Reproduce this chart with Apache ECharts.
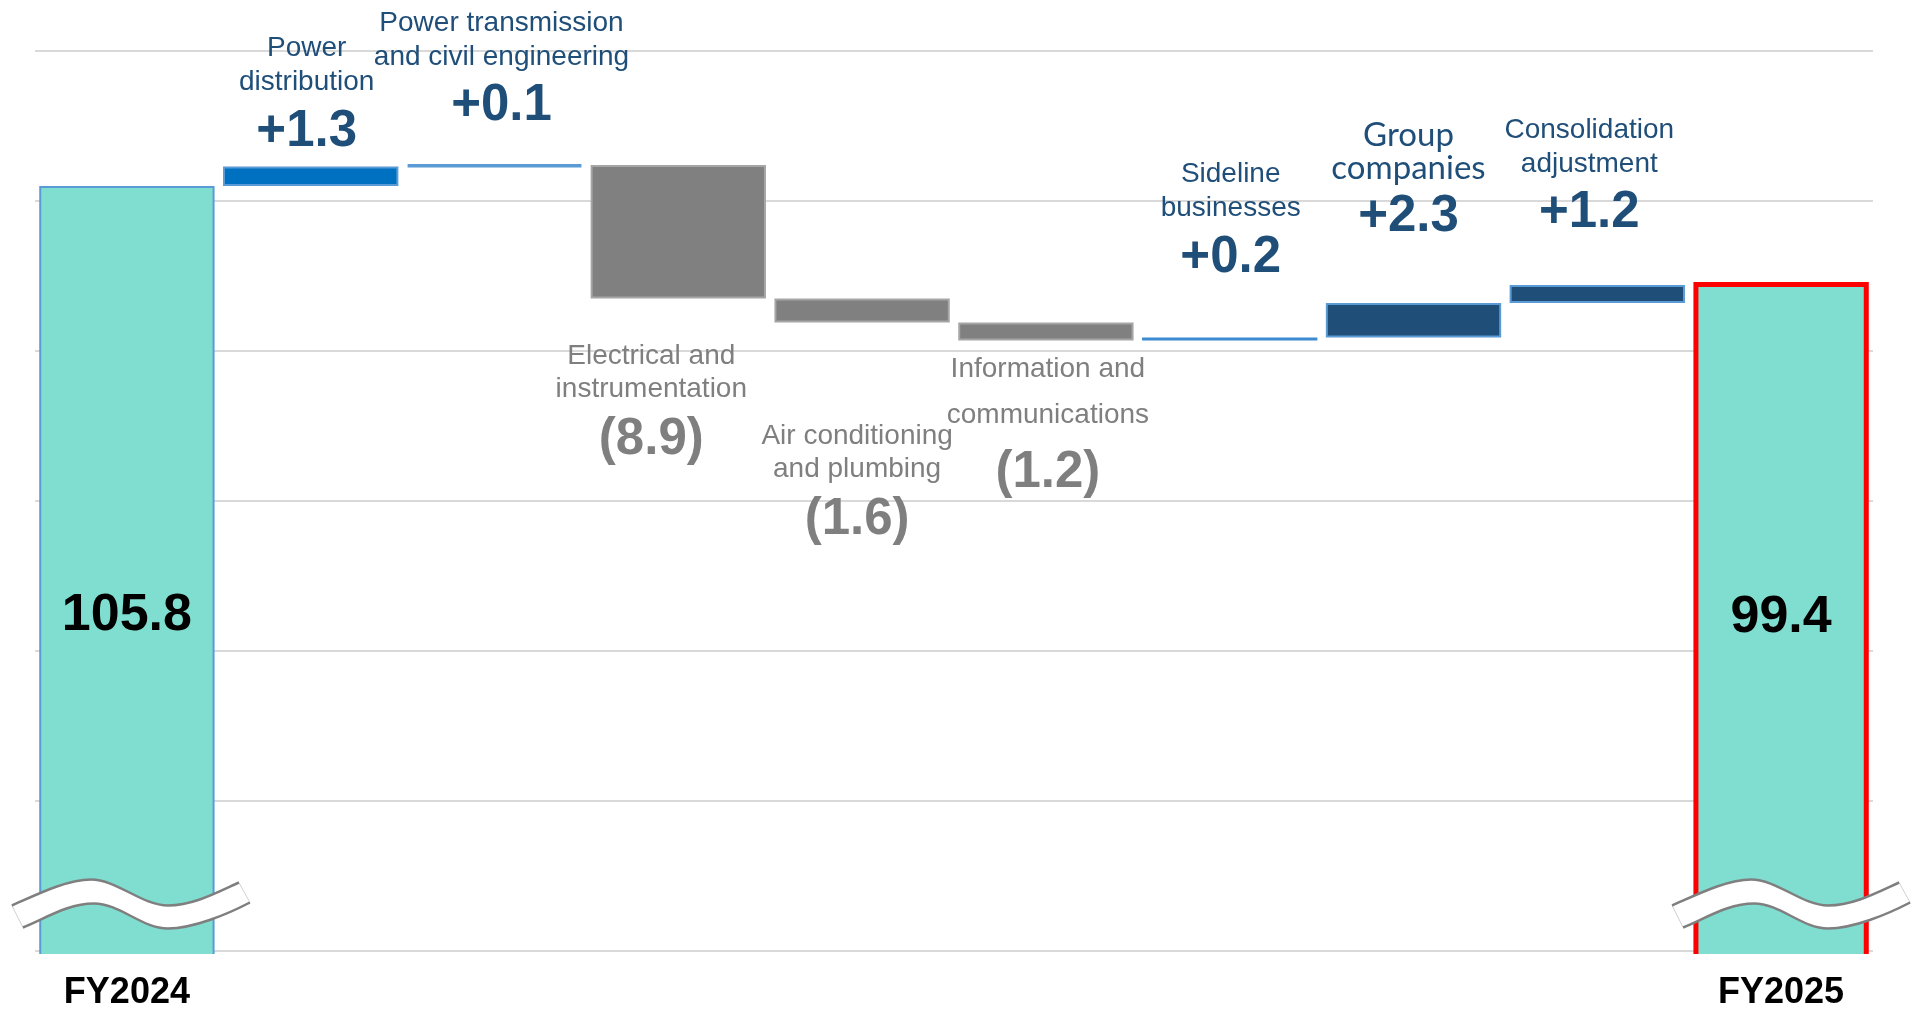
<!DOCTYPE html>
<html>
<head>
<meta charset="utf-8">
<script src="https://cdn.jsdelivr.net/npm/echarts@6/dist/echarts.min.js"></script>
<style>
  html, body { margin: 0; padding: 0; background: #fff; }
  #chart { width: 1919px; height: 1010px; }
</style>
</head>
<body>
<div id="chart"></div>
<script>
// values (waterfall, FY2024 -> FY2025)
const categories = ['FY2024', 'Power distribution', 'Power transmission and civil engineering',
  'Electrical and instrumentation', 'Air conditioning and plumbing', 'Information and communications',
  'Sideline businesses', 'Group companies', 'Consolidation adjustment', 'FY2025'];
const nameLines = [[], ['Power', 'distribution'], ['Power transmission', 'and civil engineering'],
  ['Electrical and', 'instrumentation'], ['Air conditioning', 'and plumbing'], ['Information and', 'communications'],
  ['Sideline', 'businesses'], ['Group', 'companies'], ['Consolidation', 'adjustment'], []];
const startValue = 105.8;
const endValue = 99.4;
const changes = [1.3, 0.1, -8.9, -1.6, -1.2, 0.2, 2.3, 1.2];
const gridValues = [54.8, 64.8, 74.8, 84.8, 94.8, 104.8, 114.8];
const breakMarks = [[0, 57.9], [9, 57.9]];

// styles per bar
const barFill = ['#7fded0', '#0070c0', '#5b9bd5', '#808080', '#808080', '#808080', '#0070c0', '#1f4e79', '#1f4e79', '#7fded0'];
const barBorder = ['#5b9bd5', '#5b9bd5', '#5b9bd5', '#a6a6a6', '#a6a6a6', '#a6a6a6', '#3c8ad0', '#5b9bd5', '#5b9bd5', '#ff0000'];
const barBorderWidth = [2, 2, 3.5, 2, 2, 2, 2.5, 2, 2, 5];
const labelGap = [312, 3, 26, 41, 97, 6, 48, 54, 40, 312];
const labelShiftX = [0, -4, 7, -27, -5, 2, 1, -5, -8, 0];
const nameStyle = ['', 'n', 'n', 'gn', 'gn', 'gw', 'n', 'g', 'n', ''];

function fmt(c) {
  return c >= 0 ? '+' + c.toFixed(1) : '(' + Math.abs(c).toFixed(1) + ')';
}

function makeItem(i, v, c) {
  const item = {
    value: v,
    itemStyle: { color: barFill[i], borderColor: barBorder[i], borderWidth: barBorderWidth[i] }
  };
  if (c === undefined) {
    item.label = { show: true, position: 'insideBottom', distance: labelGap[i], formatter: '{t|' + v.toFixed(1) + '}' };
  } else {
    const up = c >= 0;
    const lines = nameLines[i].map(s => '{' + nameStyle[i] + '|' + s + '}');
    lines.push('{' + (up ? 'v' : 'gv') + '|' + fmt(c) + '}');
    item.label = {
      show: true,
      position: up ? 'top' : 'bottom',
      distance: labelGap[i],
      offset: [labelShiftX[i], 0],
      formatter: lines.join('\n')
    };
  }
  return item;
}

const baseData = [0];
const deltaData = [makeItem(0, startValue)];
let run = startValue;
changes.forEach((c, k) => {
  const next = +(run + c).toFixed(1);
  baseData.push(Math.min(run, next));
  deltaData.push(makeItem(k + 1, Math.abs(c), c));
  run = next;
});
baseData.push(0);
deltaData.push(makeItem(9, endValue));

// wavy "axis break" band, local pixels around its anchor point
const waveTop = 'M-115 1 C-90 -10 -60 -25 -36 -25 C-10 -25 15 1 41 1 C66 1 90 -12 112 -22';
const waveBottom = 'M-104 23 C-80 13 -58 -1 -33 -1 C-7 -1 15 24 41 24 C66 24 100 10 123 -2';
const waveFill = waveTop + ' L123 -2 C100 10 66 24 41 24 C15 24 -7 -1 -33 -1 C-58 -1 -80 13 -104 23 Z';

function renderBreak(params, api) {
  const p = api.coord([api.value(0), api.value(1)]);
  const dx = params.dataIndex === 1 ? 6 : 0;
  return {
    type: 'group',
    x: p[0] + dx,
    y: p[1],
    children: [
      { type: 'path', shape: { pathData: waveFill }, style: { fill: '#ffffff', stroke: '#d0d0d0', lineWidth: 1 } },
      { type: 'path', shape: { pathData: waveTop }, style: { fill: 'none', stroke: '#7f7f7f', lineWidth: 2.5 } },
      { type: 'path', shape: { pathData: waveBottom }, style: { fill: 'none', stroke: '#7f7f7f', lineWidth: 2.5 } }
    ]
  };
}

const font = 'Liberation Sans, Arial, sans-serif';
const myChart = echarts.init(document.getElementById('chart'));
myChart.setOption({
  animation: false,
  grid: { left: 35, right: 46, top: 51, bottom: 53, outerBoundsMode: 'none' },
  xAxis: {
    type: 'category',
    data: categories,
    z: 10,
    // white line hides the clipped bottom edge of the end bars
    axisLine: { show: true, onZero: false, lineStyle: { color: '#ffffff', width: 6 } },
    axisTick: { show: false },
    axisLabel: {
      interval: 0,
      margin: 18,
      fontFamily: font,
      fontSize: 36,
      fontWeight: 'bold',
      color: '#000',
      formatter: (v, i) => (i === 0 || i === categories.length - 1 ? v : '')
    }
  },
  yAxis: {
    type: 'value',
    min: 54.4,
    max: 114.8,
    axisLine: { show: false },
    axisTick: { show: false },
    axisLabel: { show: false },
    splitLine: { show: false }
  },
  series: [
    {
      type: 'bar',
      stack: 'w',
      silent: true,
      barCategoryGap: '4.6%',
      itemStyle: { color: 'transparent' },
      data: baseData,
      markLine: {
        silent: true,
        z: 1,
        symbol: ['none', 'none'],
        label: { show: false },
        lineStyle: { color: '#d9d9d9', width: 2, type: 'solid' },
        data: gridValues.map(v => ({ yAxis: v }))
      }
    },
    {
      type: 'bar',
      stack: 'w',
      z: 3,
      data: deltaData,
      label: {
        fontFamily: font,
        rich: {
          n: { color: '#1f4e79', fontFamily: font, fontSize: 28, lineHeight: 34 },
          g: { color: '#1f4e79', fontFamily: 'Lato', fontSize: 33, lineHeight: 33 },
          v: { color: '#1f4e79', fontFamily: font, fontSize: 51, fontWeight: 'bold', lineHeight: 64 },
          gn: { color: '#7f7f7f', fontFamily: font, fontSize: 28, lineHeight: 33 },
          gw: { color: '#7f7f7f', fontFamily: font, fontSize: 28, lineHeight: 46 },
          gv: { color: '#7f7f7f', fontFamily: font, fontSize: 51, fontWeight: 'bold', lineHeight: 68 },
          t: { color: '#000', fontFamily: font, fontSize: 52, fontWeight: 'bold', lineHeight: 60 }
        }
      }
    },
    {
      type: 'custom',
      z: 6,
      silent: true,
      renderItem: renderBreak,
      data: breakMarks
    }
  ]
});
</script>
</body>
</html>
